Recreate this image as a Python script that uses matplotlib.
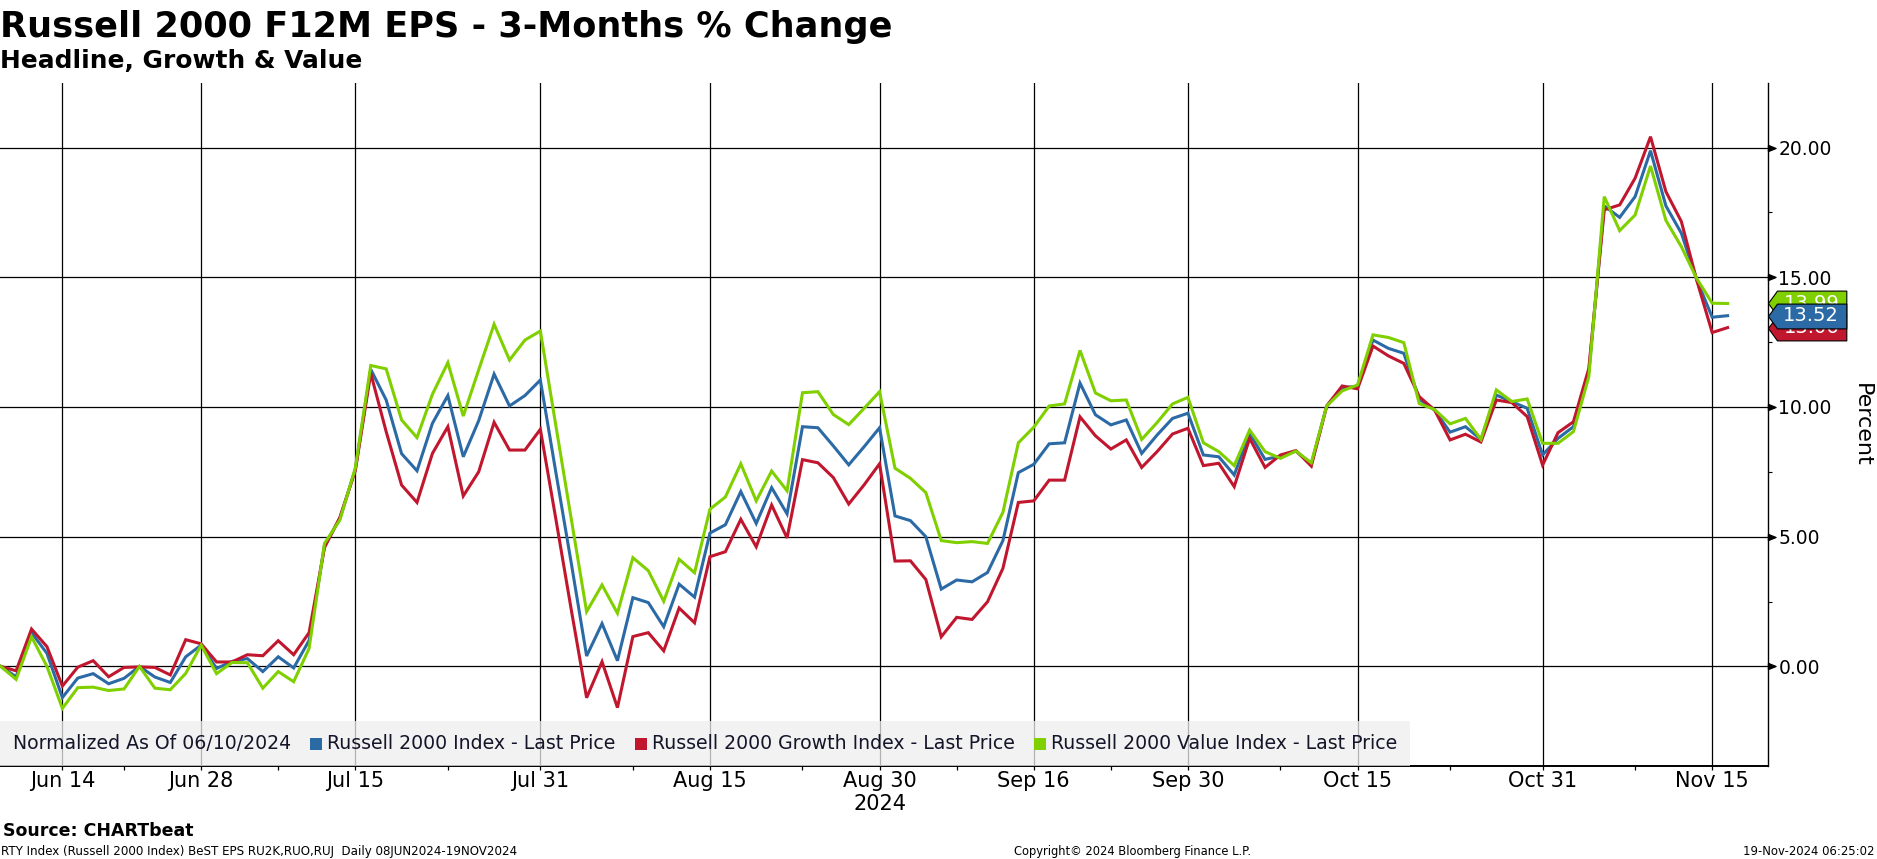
import matplotlib
matplotlib.use("Agg")
import numpy as np
import pandas as pd
import matplotlib.pyplot as plt
from matplotlib import transforms
from matplotlib.offsetbox import AnchoredOffsetbox, HPacker, TextArea, DrawingArea
from matplotlib.patches import Rectangle

# trading days (US market holidays removed)
holidays = ["2024-06-19", "2024-07-04", "2024-09-02"]
dates = pd.bdate_range("2024-06-10", "2024-11-18")
dates = dates[~dates.isin(pd.to_datetime(holidays))]

# 3-month % change of F12M EPS, normalized as of 06/10/2024
rty = [0, -0.4, 1.3, 0.5, -1.2, -0.45, -0.28, -0.67, -0.46, 0.0,
       -0.41, -0.62, 0.37, 0.82, -0.08, 0.19, 0.3, -0.2, 0.37, -0.06,
       1.0, 4.65, 5.7, 7.6, 11.45, 10.27, 8.2, 7.54, 9.37, 10.44,
       8.08, 9.47, 11.27, 10.04, 10.44, 11.04, 7.5, 4.0, 0.4, 1.65,
       0.22, 2.65, 2.46, 1.53, 3.17, 2.67, 5.14, 5.46, 6.74, 5.51,
       6.89, 5.88, 9.24, 9.2, 8.5, 7.77, 8.47, 9.2, 5.8, 5.62,
       5.0, 2.98, 3.33, 3.26, 3.62, 4.85, 7.47, 7.79, 8.58, 8.62,
       10.92, 9.7, 9.31, 9.5, 8.21, 8.92, 9.56, 9.76, 8.15, 8.08,
       7.38, 8.98, 7.98, 8.11, 8.3, 7.8, 10.04, 10.74, 10.8, 12.58,
       12.26, 12.07, 10.3, 9.88, 9.03, 9.24, 8.75, 10.46, 10.21, 9.95,
       8.15, 8.79, 9.24, 11.36, 17.75, 17.31, 18.11, 19.88, 17.75, 16.7,
       14.9, 13.46, 13.52]
growth = [0, -0.17, 1.44, 0.76, -0.76, -0.03, 0.22, -0.4, -0.04, -0.02,
          -0.04, -0.33, 1.03, 0.87, 0.17, 0.17, 0.45, 0.41, 0.99, 0.45,
          1.3, 4.58, 5.75, 7.55, 11.3, 9.05, 6.99, 6.32, 8.21, 9.24,
          6.57, 7.5, 9.41, 8.34, 8.34, 9.14, 5.7, 2.2, -1.21, 0.18,
          -1.59, 1.15, 1.3, 0.6, 2.25, 1.68, 4.23, 4.42, 5.67, 4.61,
          6.22, 4.95, 7.97, 7.85, 7.28, 6.26, 7.0, 7.81, 4.06, 4.07,
          3.35, 1.14, 1.89, 1.81, 2.49, 3.78, 6.32, 6.38, 7.18, 7.18,
          9.62, 8.89, 8.38, 8.73, 7.67, 8.28, 8.96, 9.18, 7.74, 7.83,
          6.93, 8.79, 7.67, 8.15, 8.32, 7.72, 10.04, 10.81, 10.7, 12.35,
          11.97, 11.68, 10.4, 9.88, 8.73, 8.95, 8.65, 10.27, 10.17, 9.63,
          7.76, 9.01, 9.43, 11.49, 17.6, 17.79, 18.82, 20.42, 18.3, 17.15,
          14.88, 12.87, 13.06]
value = [0, -0.5, 1.14, 0.0, -1.62, -0.82, -0.8, -0.93, -0.87, 0.0,
         -0.84, -0.9, -0.27, 0.82, -0.28, 0.15, 0.14, -0.84, -0.2, -0.59,
         0.69, 4.74, 5.65, 7.65, 11.6, 11.47, 9.5, 8.82, 10.49, 11.71,
         9.65, 11.43, 13.19, 11.81, 12.58, 12.93, 9.3, 5.7, 2.11, 3.14,
         2.05, 4.19, 3.69, 2.51, 4.13, 3.61, 6.06, 6.53, 7.81, 6.38,
         7.53, 6.77, 10.55, 10.59, 9.71, 9.32, 9.95, 10.59, 7.64, 7.25,
         6.7, 4.85, 4.77, 4.81, 4.74, 5.94, 8.62, 9.22, 10.04, 10.12,
         12.18, 10.54, 10.24, 10.27, 8.75, 9.4, 10.12, 10.37, 8.62, 8.28,
         7.74, 9.11, 8.28, 8.02, 8.3, 7.85, 10.04, 10.62, 10.85, 12.78,
         12.68, 12.48, 10.13, 9.9, 9.35, 9.56, 8.75, 10.66, 10.21, 10.31,
         8.6, 8.6, 9.05, 11.17, 18.11, 16.8, 17.4, 19.29, 17.19, 16.18,
         14.95, 14.0, 13.99]

series_names = ["Russell 2000 Index - Last Price",
                "Russell 2000 Growth Index - Last Price",
                "Russell 2000 Value Index - Last Price"]
colors = ["#2c6aa6", "#c0172f", "#80d000"]

tick_dates = ["2024-06-14", "2024-06-28", "2024-07-15", "2024-07-31", "2024-08-15",
              "2024-08-30", "2024-09-16", "2024-09-30", "2024-10-15", "2024-10-31",
              "2024-11-15"]
tick_labels = ["Jun 14", "Jun 28", "Jul 15", "Jul 31", "Aug 15", "Aug 30",
               "Sep 16", "Sep 30", "Oct 15", "Oct 31", "Nov 15"]
minor_dates = ["2024-06-21", "2024-07-08", "2024-07-23", "2024-08-08", "2024-08-23",
               "2024-09-09", "2024-09-23", "2024-10-08", "2024-10-23", "2024-11-08"]
y_ticks = [0, 5, 10, 15, 20]

x = np.arange(len(dates))
tick_pos = [dates.get_loc(pd.Timestamp(d)) for d in tick_dates]
minor_pos = [dates.get_loc(pd.Timestamp(d)) for d in minor_dates]

W, H = 1877, 859
fig = plt.figure(figsize=(W / 100, H / 100), dpi=100)
ax = fig.add_axes([0, 1 - 766 / H, 1767.7 / W, (766 - 83) / H])

for vals, col, z in zip([rty, growth, value], colors, [3, 3.1, 3.2]):
    ax.plot(x, vals, color=col, lw=2.2, zorder=z, solid_joinstyle="miter")

ax.set_xlim(-0.045, 114.6)
ax.set_ylim(-3.84, 22.49)

ax.set_xticks(tick_pos)
ax.set_xticklabels(tick_labels)
ax.set_xticks(minor_pos, minor=True)
ax.set_yticks(y_ticks)
ax.set_yticklabels([f"{v:.2f}" for v in y_ticks])
ax.set_yticks(np.arange(2.5, 22, 5), minor=True)
ax.yaxis.tick_right()
ax.grid(True, which="major", color="black", lw=0.9)
ax.tick_params(axis="x", which="both", length=2.9, width=0.9, pad=0.5, labelsize=15)
ax.tick_params(axis="y", which="major", length=0, pad=7.6, labelsize=13.5)
ax.tick_params(axis="y", which="minor", length=2.9, width=0.8)

for s in ["top", "left"]:
    ax.spines[s].set_visible(False)
ax.spines["bottom"].set_linewidth(1.4)
ax.spines["right"].set_linewidth(1.0)

# arrow heads on the right axis at major ticks
trans_y = transforms.blended_transform_factory(ax.transAxes, ax.transData)
arrow = [(0, 3), (7.5, 0), (0, -3), (0, 3)]
ax.plot([1] * len(y_ticks), y_ticks, ls="none", marker=arrow, ms=10.8,
        color="black", transform=trans_y, clip_on=False, zorder=6)

# last value tags
tag = [(-9, 0), (0, 12.4), (69.3, 12.4), (69.3, -12.4), (0, -12.4), (-9, 0)]
tag_off = trans_y + transforms.ScaledTranslation(9 / 100, 0, fig.dpi_scale_trans)
txt_off = trans_y + transforms.ScaledTranslation(43.6 / 100, 0, fig.dpi_scale_trans)
for vals, col, z in [(value, colors[2], 7), (growth, colors[1], 8), (rty, colors[0], 9)]:
    last = vals[-1]
    ax.plot([1], [last], ls="none", marker=tag, ms=99.8, mfc=col, mec="black",
            mew=0.8, transform=tag_off, clip_on=False, zorder=z)
    ax.text(1, last, f"{last:.2f}", color="white", fontsize=14, ha="center",
            va="center", transform=txt_off, zorder=z, clip_on=False)

# year label under the axis
trans_x = transforms.blended_transform_factory(ax.transData, ax.transAxes)
ax.text(tick_pos[5], -0.0556, "2024", transform=trans_x, ha="center", va="center",
        fontsize=15)

# legend strip
items = [TextArea("Normalized As Of 06/10/2024", textprops=dict(fontsize=13.6, color="#15152a"))]
for name, col in zip(series_names, colors):
    da = DrawingArea(8.6, 8.6, 0, 0)
    da.add_artist(Rectangle((0, 0), 8.6, 8.6, facecolor=col, edgecolor="none"))
    ta = TextArea(name, textprops=dict(fontsize=13.6, color="#15152a"))
    items.append(HPacker(children=[da, ta], align="center", pad=0, sep=3.4))
box = HPacker(children=items, align="center", pad=0, sep=14)
leg = AnchoredOffsetbox(loc="lower left", child=box, pad=0.68, borderpad=0,
                        frameon=True, bbox_to_anchor=(0, 0), bbox_transform=ax.transAxes,
                        prop=dict(size=13.6))
leg.patch.set_facecolor("#eeeeee")
leg.patch.set_edgecolor("none")
leg.patch.set_alpha(0.75)
leg.patch.set_boxstyle("square", pad=0)
leg.set_zorder(5)
ax.add_artist(leg)

# titles and footer
fig.text(0, 1 - 36.7 / H, "Russell 2000 F12M EPS - 3-Months % Change",
         fontsize=25.3, fontweight="bold", va="baseline")
fig.text(0, 1 - 68.3 / H, "Headline, Growth & Value", fontsize=17.9,
         fontweight="bold", va="baseline")
fig.text(1862 / W, 1 - 424.5 / H, "Percent", rotation=270, ha="center", va="center",
         fontsize=16)
fig.text(3 / W, 1 - 836 / H, "Source: CHARTbeat", fontsize=12.5, fontweight="bold",
         va="baseline")
fig.text(1 / W, 1 - 855 / H,
         "RTY Index (Russell 2000 Index) BeST EPS RU2K,RUO,RUJ  Daily 08JUN2024-19NOV2024",
         fontsize=8.6, va="baseline")
fig.text(1132 / W, 1 - 855 / H, "Copyright\u00a9 2024 Bloomberg Finance L.P.",
         fontsize=8.3, ha="center", va="baseline")
fig.text(1874 / W, 1 - 855 / H, "19-Nov-2024 06:25:02", fontsize=8.4, ha="right",
         va="baseline")

fig.savefig("out.png", dpi=100)
